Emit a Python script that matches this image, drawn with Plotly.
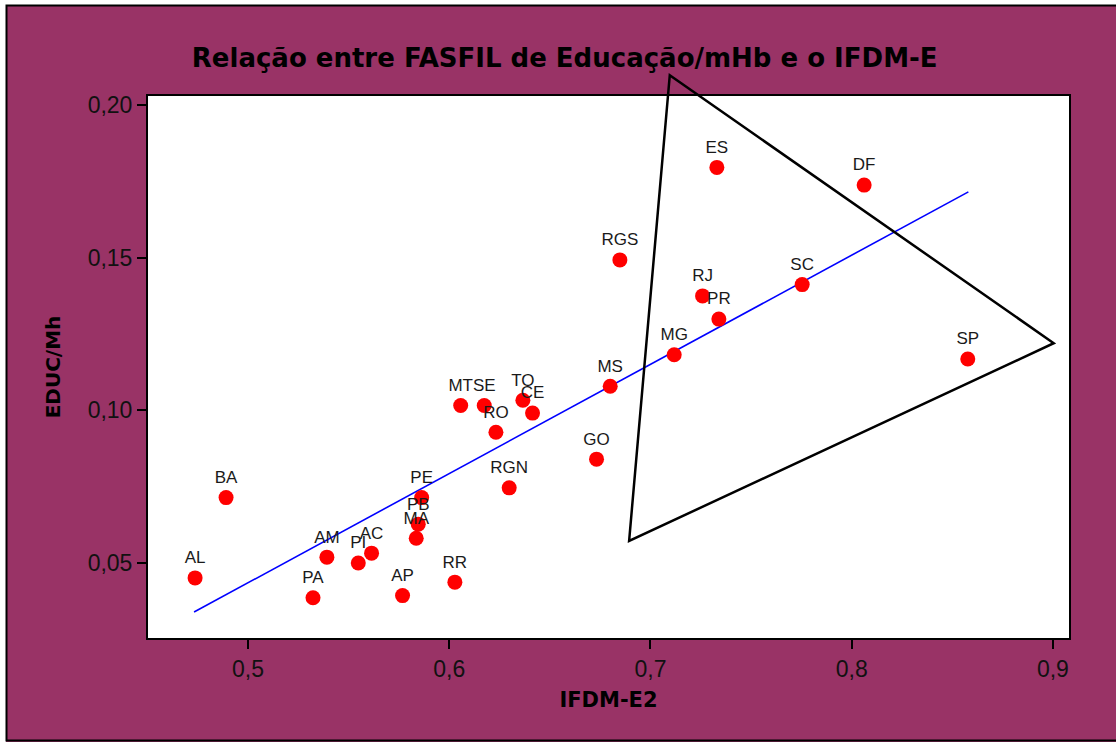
import plotly.graph_objects as go

# Unidades da federação: IFDM-E2 (eixo x) e FASFIL de Educação por mil habitantes (eixo y)
states = ["AL", "BA", "AM", "PA", "PI", "AC", "AP", "PE", "PB", "MA", "RR", "MT", "SE",
          "RO", "TO", "CE", "RGN", "GO", "MS", "RGS", "MG", "RJ", "PR", "ES", "SC", "DF", "SP"]
ifdm_e2 = [0.4737, 0.4891, 0.5392, 0.5323, 0.5548, 0.5614, 0.5768, 0.5863, 0.5846, 0.5836,
           0.6028, 0.6057, 0.6174, 0.6232, 0.6366, 0.6414, 0.6298, 0.6732, 0.6800, 0.6848,
           0.7118, 0.7259, 0.7340, 0.7330, 0.7754, 0.8062, 0.8577]
educ_mh = [0.0451, 0.0714, 0.0519, 0.0386, 0.0500, 0.0532, 0.0393, 0.0714, 0.0627, 0.0581,
           0.0437, 0.1016, 0.1016, 0.0928, 0.1033, 0.0991, 0.0746, 0.0840, 0.1079, 0.1493,
           0.1182, 0.1375, 0.1299, 0.1796, 0.1412, 0.1738, 0.1168]

# Reta de regressão (extremos)
fit_x = [0.4732, 0.8580]
fit_y = [0.0339, 0.1716]

# Triângulo destacando os estados de maior IFDM
tri_x = [0.7096, 0.9004, 0.6894]
tri_y = [0.2098, 0.1220, 0.0572]

x_ticks = [0.5, 0.6, 0.7, 0.8, 0.9]
y_ticks = [0.05, 0.10, 0.15, 0.20]

X_RANGE = [0.4503, 0.9080]
Y_RANGE = [0.0254, 0.2030]

W, H = 1116, 742
M_L, M_R, M_T, M_B = 148, 47, 96, 104
PW, PH = W - M_L - M_R, H - M_T - M_B

BG = "#993366"
FONT = "Liberation Sans, Arial, sans-serif"
TITLE_FONT = "DejaVu Sans, Verdana, sans-serif"


def data_to_paper(x, y):
    px = (x - X_RANGE[0]) / (X_RANGE[1] - X_RANGE[0])
    py = (y - Y_RANGE[0]) / (Y_RANGE[1] - Y_RANGE[0])
    return px, py


def pix_x(p):
    return (p - M_L) / PW


def pix_y(p):
    return (H - M_B - p) / PH


fig = go.Figure()

fig.add_trace(go.Scatter(
    x=fit_x, y=fit_y, mode="lines",
    line=dict(color="#0000ff", width=1.6),
    hoverinfo="skip", showlegend=False,
))

fig.add_trace(go.Scatter(
    x=ifdm_e2, y=educ_mh, mode="markers+text",
    text=states, textposition="top center",
    textfont=dict(family=FONT, size=17, color="#1a1a1a"),
    marker=dict(color="#ff0000", size=15, line=dict(width=0)),
    showlegend=False, cliponaxis=False,
))

tri_pts = [data_to_paper(a, b) for a, b in zip(tri_x, tri_y)]
tri_path = "M " + " L ".join(f"{a:.5f},{b:.5f}" for a, b in tri_pts) + " Z"

shapes = [
    dict(type="path", path=tri_path, xref="paper", yref="paper",
         line=dict(color="black", width=2.5), layer="above"),
    # margem branca e moldura externa
    dict(type="rect", xref="paper", yref="paper",
         x0=pix_x(-20), x1=pix_x(W + 20), y0=pix_y(-20), y1=pix_y(5),
         fillcolor="white", line=dict(width=0), layer="above"),
    dict(type="rect", xref="paper", yref="paper",
         x0=pix_x(-20), x1=pix_x(6), y0=pix_y(-20), y1=pix_y(H + 20),
         fillcolor="white", line=dict(width=0), layer="above"),
    dict(type="rect", xref="paper", yref="paper",
         x0=pix_x(6.5), x1=pix_x(W + 20), y0=pix_y(740.5), y1=pix_y(5.5),
         line=dict(color="black", width=2), layer="above"),
]

fig.update_layout(
    width=W, height=H,
    margin=dict(l=M_L, r=M_R, t=M_T, b=M_B, pad=0),
    paper_bgcolor=BG, plot_bgcolor="white",
    separators=",.",
    font=dict(family=FONT, color="#111111"),
    title=dict(
        text="Relação entre FASFIL de Educação/mHb e o IFDM-E",
        x=0.506, xanchor="center", y=1 - 58 / H, yanchor="middle",
        font=dict(family=TITLE_FONT, size=26, color="black", weight="bold"),
    ),
    xaxis=dict(
        range=X_RANGE, tickvals=x_ticks, tickformat=".1f",
        showgrid=False, zeroline=False,
        showline=True, mirror=True, linecolor="black", linewidth=2,
        ticks="outside", ticklen=9, tickwidth=1.5, tickcolor="black",
        tickfont=dict(family=FONT, size=23, color="#111111"),
        title=dict(text="IFDM-E2", standoff=12,
                   font=dict(family=TITLE_FONT, size=21, color="black", weight="bold")),
    ),
    yaxis=dict(
        range=Y_RANGE, tickvals=y_ticks, tickformat=".2f",
        showgrid=False, zeroline=False,
        showline=True, mirror=True, linecolor="black", linewidth=2,
        ticks="outside", ticklen=9, tickwidth=1.5, tickcolor="black",
        tickfont=dict(family=FONT, size=23, color="#111111"),
        title=dict(text="EDUC/Mh", standoff=22,
                   font=dict(family=TITLE_FONT, size=20, color="black", weight="bold")),
    ),
    shapes=shapes,
)

fig.write_html("out.html")
